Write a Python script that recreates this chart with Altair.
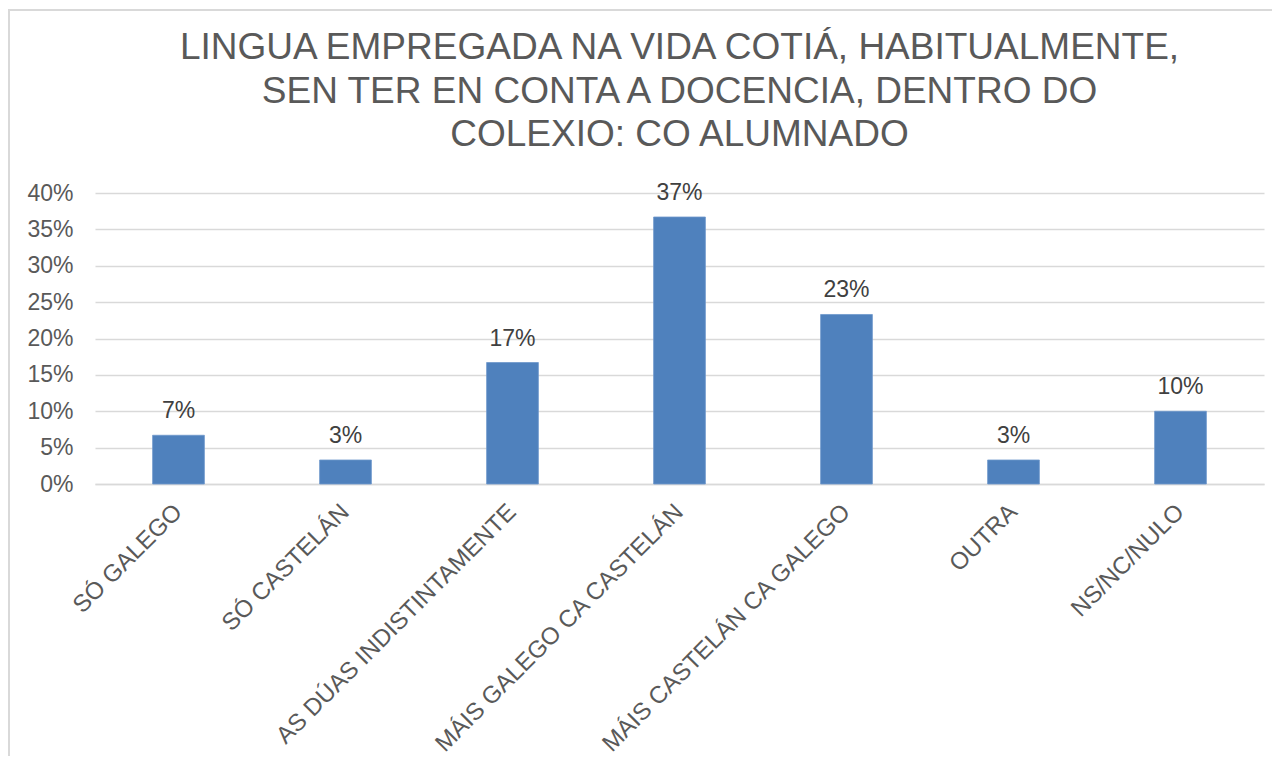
import altair as alt
import pandas as pd

categories = ["SÓ GALEGO", "SÓ CASTELÁN", "AS DÚAS INDISTINTAMENTE",
              "MÁIS GALEGO CA CASTELÁN", "MÁIS CASTELÁN CA GALEGO",
              "OUTRA", "NS/NC/NULO"]
values = [0.067, 0.033, 0.167, 0.367, 0.233, 0.033, 0.100]
y_ticks = [0, 0.05, 0.10, 0.15, 0.20, 0.25, 0.30, 0.35, 0.40]
title_lines = ["LINGUA EMPREGADA NA VIDA COTIÁ, HABITUALMENTE,",
               "SEN TER EN CONTA A DOCENCIA, DENTRO DO",
               "COLEXIO: CO ALUMNADO"]

df = pd.DataFrame({"cat": categories, "val": values})

FONT = "Liberation Sans"
GRAY = "#595959"

x_enc = alt.X("cat:N", sort=categories, title=None,
              scale=alt.Scale(paddingInner=0.69, paddingOuter=0.345),
              axis=alt.Axis(labelAngle=-45, labelAlign="right", labelBaseline="middle",
                            labelPadding=24, ticks=False, domainColor="#d9d9d9",
                            domainWidth=1.5, labelFontSize=24, labelColor=GRAY,
                            labelFont=FONT, labelLimit=400))
y_enc = alt.Y("val:Q", title=None,
              scale=alt.Scale(domain=[0, 0.4], nice=False),
              axis=alt.Axis(values=y_ticks, format=".0%", ticks=False, domain=False,
                            gridColor="#d9d9d9", gridWidth=1.5, labelPadding=22,
                            labelOverlap=False, tickCount=9,
                            labelFontSize=23, labelColor=GRAY, labelFont=FONT))

bars = alt.Chart(df).mark_bar(color="#4F81BD", stroke="#6f98cc", strokeWidth=0.8).encode(
    x=x_enc, y=y_enc)

labels = alt.Chart(df).mark_text(font=FONT, fontSize=23, color="#404040",
                                 baseline="alphabetic", dy=-17).encode(
    x=x_enc, y=y_enc,
    text=alt.Text("val:Q", format=".0%"))

frame = alt.Chart(df).mark_rect(filled=False, stroke="#d9d9d9", strokeWidth=1.5).encode(
    x=alt.value(-86), x2=alt.value(1300), y=alt.value(-183), y2=alt.value(700))

chart = alt.layer(frame, bars, labels).properties(
    width=1169, height=291,
    autosize=alt.AutoSizeParams(type="none"),
    padding={"left": 87, "top": 185, "right": 8, "bottom": 272},
    title=alt.TitleParams(text=title_lines, fontSize=37, font=FONT, color=GRAY,
                          fontWeight="normal", lineHeight=43.5, anchor="middle",
                          frame="group", offset=-145),
).configure_view(stroke=None)

chart.save("out.html", embed_options={"renderer": "svg", "actions": False})
